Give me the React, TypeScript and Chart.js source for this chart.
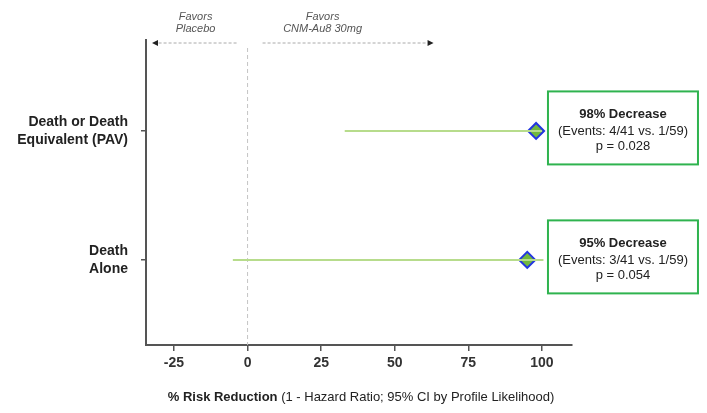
import React, { useEffect, useRef } from "react";
import { Chart, registerables } from "chart.js";

Chart.register(...registerables);

const categoryLines = [["Death or Death", "Equivalent (PAV)"], ["Death", "Alone"]];
const rowValues = [2, 1];
const estimates = [98, 95];
const ciLower = [33, -5];
const ciUpper = [100, 100.5];
const headlines = ["98% Decrease", "95% Decrease"];
const eventTexts = ["(Events: 4/41 vs. 1/59)", "(Events: 3/41 vs. 1/59)"];
const pTexts = ["p = 0.028", "p = 0.054"];
const xTickValues = [-25, 0, 25, 50, 75, 100];
const favorsLeft = ["Favors", "Placebo"];
const favorsRight = ["Favors", "CNM-Au8 30mg"];
const titleBold = "% Risk Reduction";
const titleRest = " (1 - Hazard Ratio; 95% CI by Profile Likelihood)";

const FONT = "'Liberation Sans', Arial, sans-serif";

const overlayPlugin = {
  id: "overlay",
  beforeDatasetsDraw(chart: any) {
    const ctx = chart.ctx;
    const xs = chart.scales.x;
    const area = chart.chartArea;
    const x0 = xs.getPixelForValue(0);
    ctx.save();
    ctx.strokeStyle = "#c4c4c4";
    ctx.lineWidth = 1;
    ctx.setLineDash([4, 3]);
    ctx.beginPath();
    ctx.moveTo(x0, area.top + 8);
    ctx.lineTo(x0, area.bottom);
    ctx.stroke();
    ctx.restore();
  },
  afterDraw(chart: any) {
    const ctx = chart.ctx;
    const xs = chart.scales.x;
    const ys = chart.scales.y;
    const area = chart.chartArea;
    const x0 = xs.getPixelForValue(0);
    ctx.save();

    // favors annotations
    ctx.fillStyle = "#555";
    ctx.font = `italic 11px ${FONT}`;
    ctx.textAlign = "center";
    ctx.textBaseline = "middle";
    const lcx = x0 - 52;
    const rcx = x0 + 75;
    favorsLeft.forEach((t, i) => ctx.fillText(t, lcx, 17 + i * 12));
    favorsRight.forEach((t, i) => ctx.fillText(t, rcx, 17 + i * 12));

    const ay = 43;
    ctx.strokeStyle = "#aaa";
    ctx.lineWidth = 1;
    ctx.setLineDash([3, 2]);
    ctx.beginPath();
    ctx.moveTo(x0 - 11, ay);
    ctx.lineTo(area.left + 12, ay);
    ctx.moveTo(x0 + 15, ay);
    ctx.lineTo(x0 + 180, ay);
    ctx.stroke();
    ctx.setLineDash([]);
    ctx.fillStyle = "#222";
    ctx.beginPath();
    ctx.moveTo(area.left + 6, ay);
    ctx.lineTo(area.left + 12, ay - 3);
    ctx.lineTo(area.left + 12, ay + 3);
    ctx.closePath();
    ctx.fill();
    ctx.beginPath();
    ctx.moveTo(x0 + 186, ay);
    ctx.lineTo(x0 + 180, ay - 3);
    ctx.lineTo(x0 + 180, ay + 3);
    ctx.closePath();
    ctx.fill();

    // result boxes
    rowValues.forEach((rv, i) => {
      const cy = ys.getPixelForValue(rv) - 3;
      const left = xs.getPixelForValue(100) + 6;
      const w = 150;
      const h = 73;
      const top = cy - h / 2;
      ctx.fillStyle = "#ffffff";
      ctx.fillRect(left, top, w, h);
      ctx.strokeStyle = "#2fb34f";
      ctx.lineWidth = 2;
      ctx.strokeRect(left, top, w, h);
      const cx = left + w / 2;
      ctx.fillStyle = "#222";
      ctx.textAlign = "center";
      ctx.textBaseline = "middle";
      ctx.font = `bold 13px ${FONT}`;
      ctx.fillText(headlines[i], cx, cy - 13.5);
      ctx.font = `13px ${FONT}`;
      ctx.fillText(eventTexts[i], cx, cy + 4);
      ctx.fillText(pTexts[i], cx, cy + 19);
    });

    // x title
    ctx.font = `bold 13px ${FONT}`;
    const wb = ctx.measureText(titleBold).width;
    ctx.font = `13px ${FONT}`;
    const wr = ctx.measureText(titleRest).width;
    const tcx = 361;
    const sx = tcx - (wb + wr) / 2;
    ctx.textAlign = "left";
    ctx.textBaseline = "middle";
    ctx.fillStyle = "#222";
    ctx.font = `bold 13px ${FONT}`;
    ctx.fillText(titleBold, sx, 397);
    ctx.font = `13px ${FONT}`;
    ctx.fillText(titleRest, sx + wb, 397);

    ctx.restore();
  },
};

export default function App() {
  const ref = useRef<HTMLCanvasElement | null>(null);
  useEffect(() => {
    if (!ref.current) return;
    const ciDatasets = rowValues.map((rv, i) => ({
      type: "line" as const,
      data: [
        { x: ciLower[i], y: rv },
        { x: ciUpper[i], y: rv },
      ],
      borderColor: "#b7dc8c",
      borderWidth: 2,
      pointRadius: 0,
      showLine: true,
    }));
    const chart = new Chart(ref.current, {
      type: "scatter",
      data: {
        datasets: [
          ...ciDatasets,
          {
            type: "scatter" as const,
            data: rowValues.map((rv, i) => ({ x: estimates[i], y: rv })),
            pointStyle: "rectRot",
            pointRadius: 8,
            backgroundColor: "#72b83e",
            borderColor: "#2336e0",
            borderWidth: 2,
          },
        ] as any,
      },
      plugins: [overlayPlugin],
      options: {
        animation: false,
        responsive: false,
        maintainAspectRatio: false,
        layout: { padding: { top: 40, right: 135, left: 0, bottom: 0 } },
        plugins: { legend: { display: false }, tooltip: { enabled: false } },
        scales: {
          x: {
            type: "linear",
            min: -34.5,
            max: 110.2,
            afterBuildTicks: (s: any) => {
              s.ticks = xTickValues.map((v) => ({ value: v }));
            },
            afterFit: (s: any) => {
              s.height = 68;
            },
            border: { display: true, color: "#555", width: 2 },
            grid: { drawOnChartArea: false, drawTicks: true, tickLength: 6, color: "#555", lineWidth: 1.5 },
            ticks: {
              padding: 4,
              color: "#333",
              font: { family: FONT, size: 14, weight: "bold" },
              maxRotation: 0,
            },
          },
          y: {
            type: "linear",
            min: 0.34,
            max: 2.705,
            afterBuildTicks: (s: any) => {
              s.ticks = rowValues.map((v) => ({ value: v }));
            },
            afterFit: (s: any) => {
              s.width = 146;
            },
            border: { display: true, color: "#555", width: 2 },
            grid: { drawOnChartArea: false, drawTicks: true, tickLength: 5, color: "#555", lineWidth: 1.5 },
            ticks: {
              padding: 13,
              color: "#222",
              font: { family: FONT, size: 14, weight: "bold", lineHeight: 1.3 },
              callback: (v: any) => {
                const idx = rowValues.indexOf(Number(v));
                return idx >= 0 ? categoryLines[idx] : "";
              },
            },
          },
        },
      } as any,
    });
    return () => chart.destroy();
  }, []);
  return (
    <div style={{ position: "fixed", left: 0, top: 0, width: 707, height: 413, background: "#fff" }}>
      <canvas ref={ref} width={707} height={413} style={{ width: 707, height: 413 }} />
    </div>
  );
}
